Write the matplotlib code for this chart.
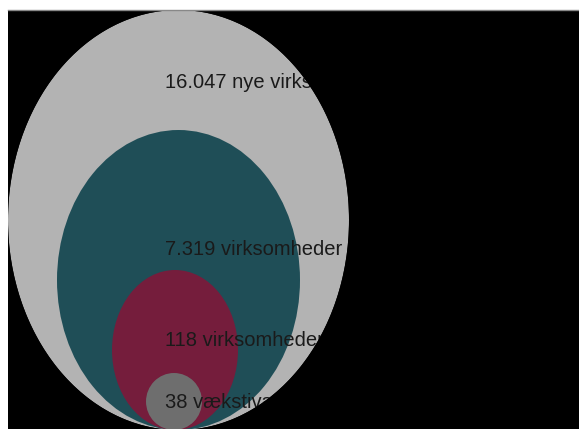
import matplotlib
matplotlib.use("Agg")
import matplotlib.pyplot as plt
import numpy as np
from matplotlib.patches import Ellipse, PathPatch
from matplotlib.path import Path

# ------------------------------
# Data
# ------------------------------
counts = [16047, 7319, 118, 38]
suffixes = ["nye virksomheder", "virksomheder med vækst", "virksomheder med høj vækst", "vækstiværksættere"]
colors = ["#b3b3b3", "#1f4e57", "#751d3c", "#6e6e6e"]

# ellipse geometry in axes pixels, all resting on the same bottom point
widths = [341, 243, 126, 56]
heights = [420, 300, 160, 57]
centers_x = [170.5, 170.5, 167, 166]
label_y = [340.5, 174, 83, 21]

bottom = -1
W, H = 571, 419


def fmt(n):
    return f"{n:,}".replace(",", ".")


fig = plt.figure(figsize=(5.79, 4.29), dpi=100)
ax = fig.add_axes([8 / 579, 0, W / 579, H / 429])
ax.set_facecolor("black")
ax.set_xlim(0, W)
ax.set_ylim(0, H)
ax.set_xticks([])
ax.set_yticks([])
for side in ["left", "right", "bottom"]:
    ax.spines[side].set_visible(False)
ax.spines["top"].set_color("#888888")
ax.spines["top"].set_linewidth(1)
ax.spines["top"].set_zorder(6)

for cx, w, h, c in zip(centers_x, widths, heights, colors):
    ax.add_patch(Ellipse((cx, bottom + h / 2), w, h, facecolor=c, edgecolor="none"))

for n, s, y in zip(counts, suffixes, label_y):
    ax.text(157, y, f"{fmt(n)} {s}", fontsize=14.5, color="#1a1a1a",
            family="Liberation Sans", va="baseline", ha="left", zorder=3)

# black mask outside the outer ellipse so the labels look cut off at its edge
th = np.linspace(0, -2 * np.pi, 400)  # clockwise
ex = centers_x[0] + widths[0] / 2 * np.cos(th)
ey = bottom + heights[0] / 2 + heights[0] / 2 * np.sin(th)
rect = [(-5, -5), (W + 5, -5), (W + 5, H + 5), (-5, H + 5), (-5, -5)]
verts = rect + list(zip(ex, ey))
codes = [Path.MOVETO] + [Path.LINETO] * 3 + [Path.CLOSEPOLY] + \
        [Path.MOVETO] + [Path.LINETO] * (len(ex) - 1)
ax.add_patch(PathPatch(Path(verts, codes), facecolor="black", edgecolor="none", zorder=4))

fig.savefig("out.png", dpi=100, facecolor="white")
